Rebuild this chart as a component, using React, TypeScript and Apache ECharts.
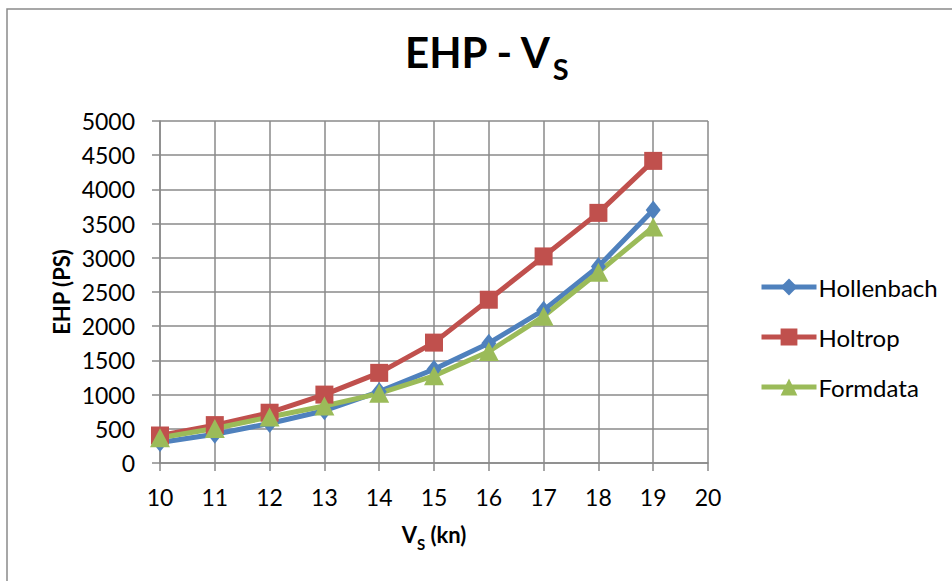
import React, { useEffect, useRef } from "react";
import * as echarts from "echarts";

const speeds = [10, 11, 12, 13, 14, 15, 16, 17, 18, 19];
const hollenbach = [300, 420, 578, 764, 1044, 1370, 1752, 2235, 2873, 3700];
const holtrop = [402, 554, 735, 1000, 1318, 1760, 2387, 3020, 3657, 4417];
const formdata = [368, 505, 672, 833, 1018, 1274, 1630, 2145, 2789, 3450];
const seriesNames = ["Hollenbach", "Holtrop", "Formdata"];
const colors = ["#4F81BD", "#C0504D", "#9BBB59"];

const FONT = "Lato";
const GRID = "#8a8a8a";

export default function App() {
  const ref = useRef<HTMLDivElement>(null);
  useEffect(() => {
    if (!ref.current) return;
    const chart = echarts.init(ref.current, null, { renderer: "svg" });
    const mk = (arr: number[]) => speeds.map((s, i) => [s, arr[i]]);
    const symbols: any[] = ["diamond", "rect", "triangle"];
    const sizes: any[] = [[15, 19], 18, [20, 19]];
    const datas = [hollenbach, holtrop, formdata];
    chart.setOption({
      animation: false,
      backgroundColor: "#fff",
      title: {
        text: "{a|EHP - V}{b|S}",
        left: 405,
        top: 33,
        padding: 0,
        textStyle: {
          rich: {
            a: { fontFamily: FONT, fontSize: 42, fontWeight: "bold", color: "#000", lineHeight: 50, padding: [0, 0, 10, 0], verticalAlign: "bottom" },
            b: { fontFamily: FONT, fontSize: 29, fontWeight: "bold", color: "#000", lineHeight: 34, verticalAlign: "bottom" },
          },
        },
      },
      graphic: [
        {
          type: "rect",
          shape: { x: 7, y: 9, width: 1000, height: 700 },
          style: { fill: "none", stroke: "#8a8a8a", lineWidth: 1.5 },
          silent: true,
        },
      ],
      legend: {
        orient: "vertical",
        left: 759,
        top: 275,
        padding: 0,
        itemWidth: 55,
        itemHeight: 21,
        itemGap: 26,
        data: seriesNames,
        lineStyle: { width: 5 },
        textStyle: { fontFamily: FONT, fontSize: 24, color: "#000", lineHeight: 21, padding: [0, 0, 0, -3] },
      },
      grid: { left: 160, right: 244, top: 121, bottom: 118 },
      xAxis: {
        type: "value",
        min: 10,
        max: 20,
        interval: 1,
        name: "{a|V}{b|S}{a| (kn)}",
        nameLocation: "middle",
        nameGap: 62,
        nameMoveOverlap: false,
        nameTextStyle: {
          rich: {
            a: { fontFamily: FONT, fontSize: 22, fontWeight: "bold", color: "#000", lineHeight: 26, padding: [0, 0, 6, 0], verticalAlign: "bottom" },
            b: { fontFamily: FONT, fontSize: 15, fontWeight: "bold", color: "#000", lineHeight: 18, verticalAlign: "bottom" },
          },
        },
        axisLine: { lineStyle: { color: GRID, width: 1.5 } },
        axisTick: { length: 8, lineStyle: { color: GRID, width: 1.5 } },
        axisLabel: { fontFamily: FONT, fontSize: 23, color: "#000", margin: 22 },
        splitLine: { show: true, lineStyle: { color: GRID, width: 1.5 } },
      },
      yAxis: {
        type: "value",
        min: 0,
        max: 5000,
        interval: 500,
        name: "EHP (PS)",
        nameLocation: "middle",
        nameGap: 88,
        nameMoveOverlap: false,
        nameTextStyle: { fontFamily: FONT, fontSize: 22, fontWeight: "bold", color: "#000" },
        axisLine: { show: true, lineStyle: { color: GRID, width: 1.5 } },
        axisTick: { show: true, length: 8, lineStyle: { color: GRID, width: 1.5 } },
        axisLabel: { fontFamily: FONT, fontSize: 23, color: "#000", margin: 25, formatter: (v: number) => String(v) },
        splitLine: { show: true, lineStyle: { color: GRID, width: 1.5 } },
      },
      series: seriesNames.map((n, i) => ({
        name: n,
        type: "line",
        data: mk(datas[i]),
        symbol: symbols[i],
        symbolSize: sizes[i],
        showSymbol: true,
        color: colors[i],
        lineStyle: { color: colors[i], width: 5 },
        itemStyle: { color: colors[i] },
        emphasis: { disabled: true },
      })),
    });
    return () => chart.dispose();
  }, []);
  return (
    <div
      ref={ref}
      style={{ position: "fixed", left: 0, top: 0, width: 952, height: 581 }}
    />
  );
}
